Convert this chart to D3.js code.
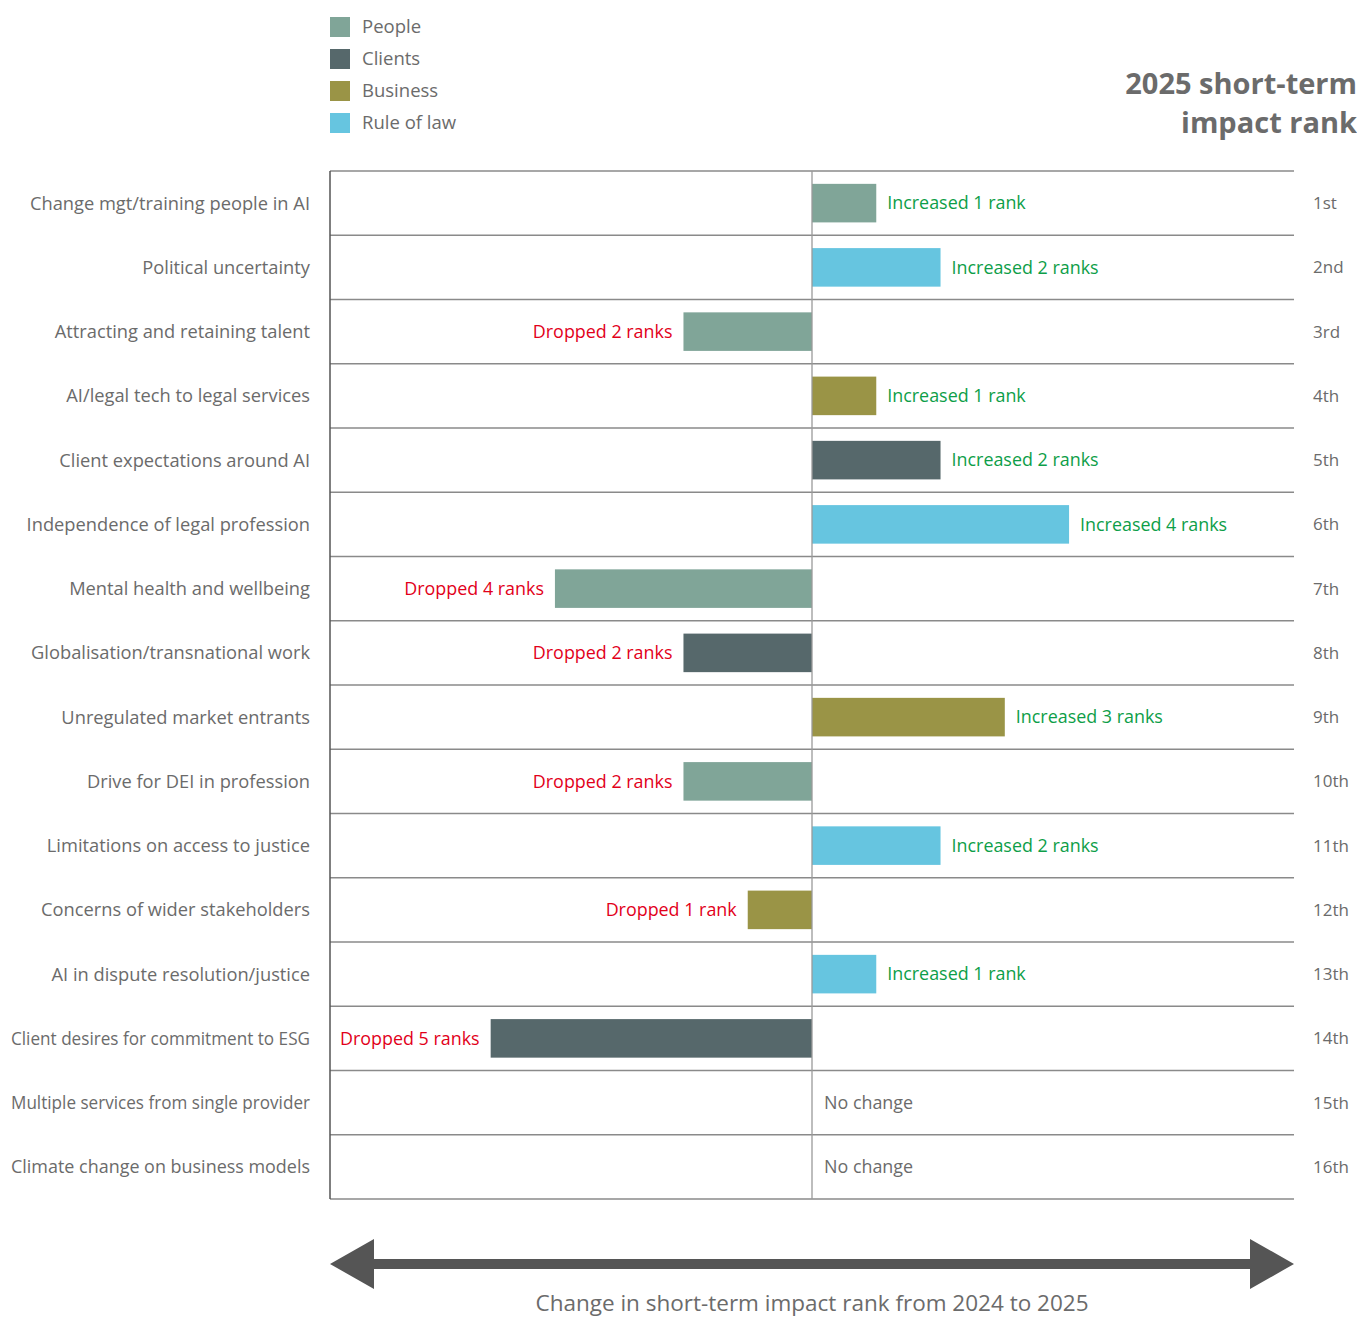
<!DOCTYPE html>
<html lang="en">
<head>
  <meta charset="UTF-8">
  <title>Short-term impact rank</title>
  <script src="https://d3js.org/d3.v7.min.js"></script>
  <style>
    body { margin: 0; background: #fff; font-family: "Open Sans", Arial, sans-serif; }
    svg { display: block; }
  </style>
</head>
<body>
<div id="chart"></div>
<script>
  // Data
  const categories = [
    "Change mgt/training people in AI",
    "Political uncertainty",
    "Attracting and retaining talent",
    "AI/legal tech to legal services",
    "Client expectations around AI",
    "Independence of legal profession",
    "Mental health and wellbeing",
    "Globalisation/transnational work",
    "Unregulated market entrants",
    "Drive for DEI in profession",
    "Limitations on access to justice",
    "Concerns of wider stakeholders",
    "AI in dispute resolution/justice",
    "Client desires for commitment to ESG",
    "Multiple services from single provider",
    "Climate change on business models"
  ];
  const rankChange = [1, 2, -2, 1, 2, 4, -4, -2, 3, -2, 2, -1, 1, -5, 0, 0];
  const groups = ["People", "Rule of law", "People", "Business", "Clients", "Rule of law", "People",
                  "Clients", "Business", "People", "Rule of law", "Business", "Rule of law", "Clients",
                  "Clients", "Business"];
  const rankLabels = ["1st", "2nd", "3rd", "4th", "5th", "6th", "7th", "8th", "9th", "10th",
                      "11th", "12th", "13th", "14th", "15th", "16th"];
  const legendGroups = ["People", "Clients", "Business", "Rule of law"];
  const groupColors = ["#80a598", "#56686b", "#9a9446", "#66c5e0"];

  const width = 1357, height = 1317;
  const plotLeft = 330, plotRight = 1294, plotTop = 171, plotBottom = 1199;

  const svg = d3.select("#chart").append("svg")
    .attr("width", width)
    .attr("height", height);

  const color = d3.scaleOrdinal().domain(legendGroups).range(groupColors);

  const x = d3.scaleLinear().domain([-7.5, 7.5]).range([plotLeft, plotRight]);
  const y = d3.scaleBand().domain(categories).range([plotTop, plotBottom]).paddingInner(0.4).paddingOuter(0.2);
  const rowY = d3.scaleBand().domain(categories).range([plotTop, plotBottom]);

  // legend
  const legend = svg.append("g").selectAll("g")
    .data(legendGroups)
    .join("g")
    .attr("transform", (d, i) => `translate(${plotLeft},${17 + i * 32})`);
  legend.append("rect").attr("width", 20).attr("height", 20).attr("fill", d => color(d));
  legend.append("text")
    .attr("x", 32).attr("y", 16)
    .attr("font-size", 18.5).attr("fill", "#6b6b6b")
    .text(d => d);

  // title
  svg.append("text")
    .attr("text-anchor", "end")
    .attr("font-size", 29).attr("font-weight", "bold").attr("fill", "#6b6b6b")
    .selectAll("tspan")
    .data(["2025 short-term", "impact rank"])
    .join("tspan")
    .attr("x", 1357)
    .attr("y", (d, i) => 94 + i * 39)
    .text(d => d);

  // row grid lines
  const gridVals = categories.map(c => rowY(c)).concat([plotBottom]);
  svg.append("g").selectAll("line")
    .data(gridVals)
    .join("line")
    .attr("x1", plotLeft).attr("x2", plotRight)
    .attr("y1", d => d).attr("y2", d => d)
    .attr("stroke", "#8a8a8a").attr("stroke-width", 1.3);

  // bars
  svg.append("g").selectAll("rect")
    .data(categories)
    .join("rect")
    .attr("x", (d, i) => x(Math.min(0, rankChange[i])))
    .attr("y", d => y(d))
    .attr("width", (d, i) => Math.abs(x(rankChange[i]) - x(0)))
    .attr("height", y.bandwidth())
    .attr("fill", (d, i) => color(groups[i]));

  // zero line and left frame
  svg.append("line")
    .attr("x1", x(0)).attr("x2", x(0)).attr("y1", plotTop).attr("y2", plotBottom)
    .attr("stroke", "#9a9a9a").attr("stroke-width", 1.3);
  svg.append("line")
    .attr("x1", plotLeft).attr("x2", plotLeft).attr("y1", plotTop).attr("y2", plotBottom)
    .attr("stroke", "#555").attr("stroke-width", 1.5);

  // category labels (squeeze the longest ones so they fit left of the frame)
  svg.append("g").selectAll("text")
    .data(categories)
    .join("text")
    .attr("x", 310)
    .attr("y", d => rowY(d) + rowY.bandwidth() / 2)
    .attr("dy", "0.35em")
    .attr("text-anchor", "end")
    .attr("font-size", 18.3).attr("fill", "#6b6b6b")
    .text(d => d)
    .each(function() {
      if (this.getComputedTextLength() > 299) {
        d3.select(this).attr("textLength", 299).attr("lengthAdjust", "spacingAndGlyphs");
      }
    });

  // rank labels
  svg.append("g").selectAll("text")
    .data(categories)
    .join("text")
    .attr("x", 1313)
    .attr("y", d => rowY(d) + rowY.bandwidth() / 2)
    .attr("dy", "0.35em")
    .attr("font-size", 17).attr("fill", "#6b6b6b")
    .text((d, i) => rankLabels[i]);

  // change labels
  function changeText(v) {
    if (v === 0) return "No change";
    const n = Math.abs(v);
    return (v > 0 ? "Increased " : "Dropped ") + n + (n === 1 ? " rank" : " ranks");
  }
  svg.append("g").selectAll("text")
    .data(categories)
    .join("text")
    .attr("x", (d, i) => rankChange[i] > 0 ? x(rankChange[i]) + 11 : rankChange[i] < 0 ? x(rankChange[i]) - 11 : x(0) + 12)
    .attr("y", d => rowY(d) + rowY.bandwidth() / 2)
    .attr("dy", "0.35em")
    .attr("text-anchor", (d, i) => rankChange[i] < 0 ? "end" : "start")
    .attr("font-size", 17.9)
    .attr("fill", (d, i) => rankChange[i] > 0 ? "#0d9e48" : rankChange[i] < 0 ? "#e2001a" : "#6b6b6b")
    .text((d, i) => changeText(rankChange[i]));

  // double-headed arrow
  const ay = 1264, head = 44, halfH = 25, shaft = 5;
  svg.append("path")
    .attr("d", `M${plotLeft},${ay} L${plotLeft + head},${ay - halfH} L${plotLeft + head},${ay - shaft}
      L${plotRight - head},${ay - shaft} L${plotRight - head},${ay - halfH} L${plotRight},${ay}
      L${plotRight - head},${ay + halfH} L${plotRight - head},${ay + shaft} L${plotLeft + head},${ay + shaft}
      L${plotLeft + head},${ay + halfH} Z`)
    .attr("fill", "#555");

  svg.append("text")
    .attr("x", x(0)).attr("y", 1311)
    .attr("text-anchor", "middle")
    .attr("font-size", 22.5).attr("fill", "#6b6b6b")
    .text("Change in short-term impact rank from 2024 to 2025");
</script>
</body>
</html>
